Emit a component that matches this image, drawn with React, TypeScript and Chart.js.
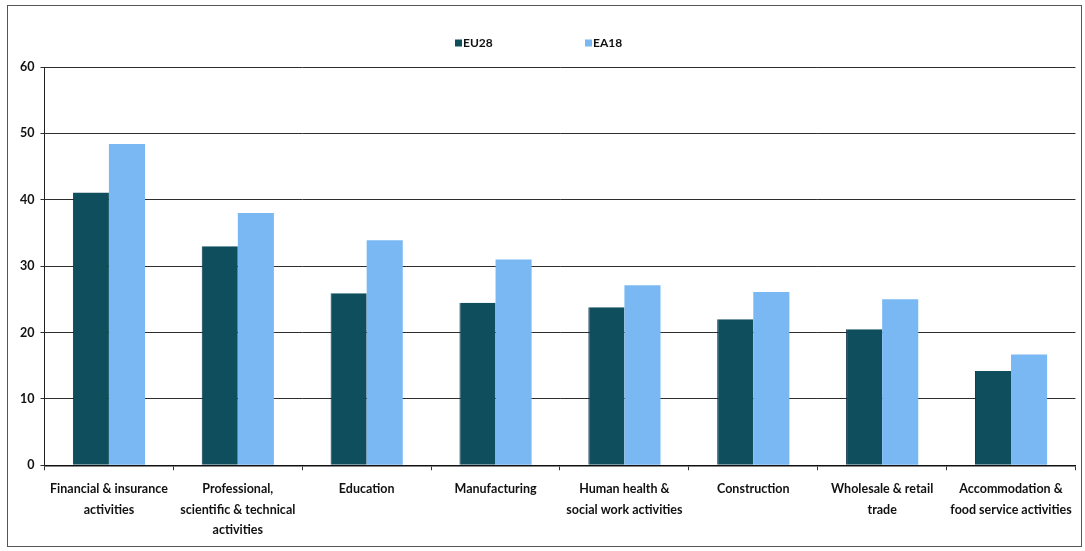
import React, { useEffect, useRef } from "react";
import { Chart, registerables } from "chart.js";

Chart.register(...registerables);

const categories: string[][] = [
  ["Financial & insurance", "activities"],
  ["Professional,", "scientific & technical", "activities"],
  ["Education"],
  ["Manufacturing"],
  ["Human health &", "social work activities"],
  ["Construction"],
  ["Wholesale & retail", "trade"],
  ["Accommodation &", "food service activities"],
];

const eu28: number[] = [41.1, 33.0, 25.9, 24.5, 23.8, 22.0, 20.5, 14.2];
const ea18: number[] = [48.4, 38.0, 33.9, 31.0, 27.1, 26.1, 25.0, 16.7];

const seriesNames = ["EU28", "EA18"];
const seriesColors = ["#0e4e5d", "#79b8f2"];
const yTicks: number[] = [0, 10, 20, 30, 40, 50, 60];

const legendPlugin = {
  id: "customLegend",
  afterDraw(chart: any) {
    const ctx = chart.ctx;
    const area = chart.chartArea;
    const center = (area.left + area.right) / 2;
    const startX = center - 105;
    const gap = 130;
    const y = area.top - 24;
    ctx.save();
    ctx.font = "bold 12px Lato";
    ctx.textBaseline = "middle";
    ctx.textAlign = "left";
    chart.data.datasets.forEach((ds: any, i: number) => {
      const x = startX + i * gap;
      ctx.fillStyle = ds.backgroundColor;
      ctx.fillRect(x, y - 3.5, 7, 7);
      ctx.fillStyle = "#111";
      ctx.fillText(ds.label, x + 8, y);
    });
    ctx.restore();
  },
};

export default function App() {
  const ref = useRef<HTMLCanvasElement | null>(null);

  useEffect(() => {
    if (!ref.current) return;
    const chart = new Chart(ref.current, {
      type: "bar",
      data: {
        labels: categories,
        datasets: [
          {
            label: seriesNames[0],
            data: eu28,
            backgroundColor: seriesColors[0],
            borderColor: "#0a2f4a",
            borderWidth: { left: 1, right: 0, top: 0, bottom: 0 } as any,
            barPercentage: 1,
            categoryPercentage: 0.56,
          },
          {
            label: seriesNames[1],
            data: ea18,
            backgroundColor: seriesColors[1],
            borderWidth: 0,
            barPercentage: 1,
            categoryPercentage: 0.56,
          },
        ],
      },
      plugins: [legendPlugin],
      options: {
        animation: false,
        responsive: true,
        maintainAspectRatio: false,
        layout: { padding: { top: 61, left: 6, right: 4, bottom: 0 } },
        plugins: {
          tooltip: { enabled: false },
          legend: { display: false },
        },
        scales: {
          x: {
            offset: true,
            grid: {
              display: true,
              drawOnChartArea: false,
              drawTicks: true,
              tickLength: 5,
              offset: true,
              color: "#333",
            },
            border: { display: true, color: "#111", width: 1.5 },
            ticks: {
              color: "#111",
              maxRotation: 0,
              autoSkip: false,
              padding: 9,
              font: { family: "Lato", size: 12.5, weight: "bold", lineHeight: 1.62 },
            },
          },
          y: {
            min: 0,
            max: 60,
            afterBuildTicks: (axis: any) => {
              axis.ticks = yTicks.map((v) => ({ value: v }));
            },
            grid: {
              color: "#2e2e2e",
              lineWidth: 1,
              drawTicks: true,
              tickLength: 4,
            },
            border: { display: true, color: "#222", width: 1 },
            ticks: {
              color: "#111",
              padding: 6,
              font: { family: "Lato", size: 12.5, weight: "bold" },
            },
          },
        },
      },
    });
    return () => chart.destroy();
  }, []);

  return (
    <div style={{ position: "fixed", left: 0, top: 0, width: 1085, height: 551 }}>
      <div
        style={{
          position: "absolute",
          left: 7,
          top: 5,
          width: 1075,
          height: 542,
          border: "1px solid #555",
          boxSizing: "border-box",
          background: "#fff",
        }}
      />
      <div style={{ position: "absolute", left: 8, top: 6, width: 1073, height: 543 }}>
        <canvas ref={ref} />
      </div>
    </div>
  );
}
